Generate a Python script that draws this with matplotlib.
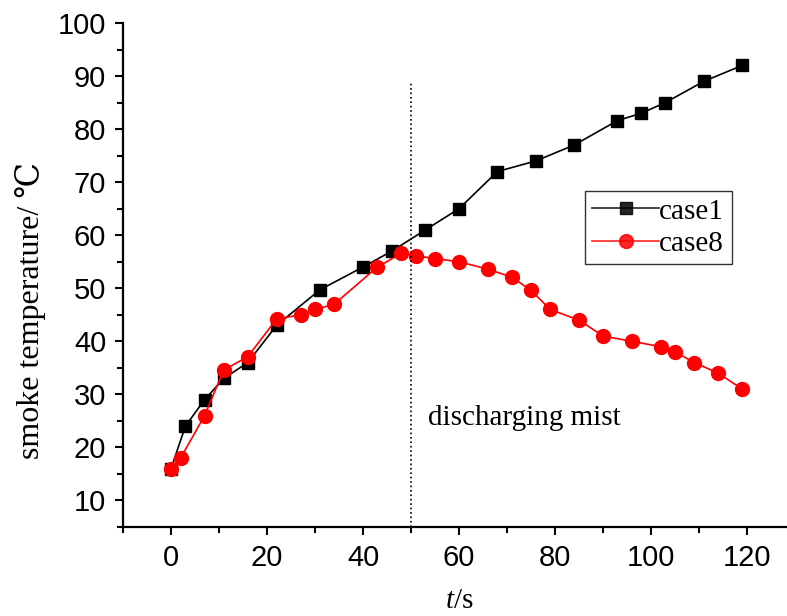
import numpy as np
import matplotlib.pyplot as plt
from matplotlib.ticker import MultipleLocator

plt.rcParams['mathtext.fontset'] = 'custom'
plt.rcParams['mathtext.it'] = 'Liberation Serif:italic'
plt.rcParams['mathtext.rm'] = 'Liberation Serif'

# data
t1 = np.array([0, 3, 7, 11, 16, 22, 31, 40, 46, 53, 60, 68, 76, 84, 93, 98, 103, 111, 119])
case1 = np.array([16, 24, 29, 33, 36, 43, 49.7, 54, 57, 61, 65, 72, 74, 77, 81.6, 83, 85, 89, 92])

t8 = np.array([0, 2, 7, 11, 16, 22, 27, 30, 34, 43, 48, 51, 55, 60, 66, 71, 75, 79, 85,
               90, 96, 102, 105, 109, 114, 119])
case8 = np.array([16, 18, 26, 34.6, 37.1, 44.2, 45, 46, 47, 54, 56.6, 56.1, 55.6, 55, 53.6,
                  52.1, 49.6, 46, 44, 41, 40, 39, 38, 36, 34, 31])

mist_t = 50
mist_top = 89

fig = plt.figure(figsize=(7.87, 6.16), dpi=100)
ax = fig.add_axes([123 / 787, 89 / 616, 672 / 787, 504 / 616])

ax.plot(t1, case1, '-s', color='black', lw=1.2, ms=8, label='case1')
ax.plot(t8, case8, '-o', color='red', lw=1.2, ms=10, label='case8')
ax.plot([mist_t, mist_t], [5, mist_top], ':', color='black', lw=1.2)
ax.text(53.5, 25.5, 'discharging mist', fontsize=21, family='Liberation Serif', va='center')

ax.set_xlim(-10, 130)
ax.set_ylim(5, 100)
ax.xaxis.set_minor_locator(MultipleLocator(10))
ax.yaxis.set_minor_locator(MultipleLocator(5))
ax.set_xticks(np.arange(0, 121, 20))
ax.set_yticks(np.arange(10, 101, 10))

for s in ['top', 'right']:
    ax.spines[s].set_visible(False)
for s in ['left', 'bottom']:
    ax.spines[s].set_linewidth(1.6)

ax.tick_params(which='major', direction='out', length=6, width=1.5, labelsize=21, pad=6)
ax.tick_params(which='minor', direction='out', length=4, width=1.5)
for lab in ax.get_xticklabels() + ax.get_yticklabels():
    lab.set_family('Liberation Sans')

ax.set_xlabel('$\\mathit{t}$/s', fontsize=21, family='Liberation Serif', labelpad=12)
ax.set_ylabel('smoke temperature/ ℃', fontsize=23, family=['Liberation Serif', 'DejaVu Serif'])
ax.yaxis.set_label_coords(-0.115, 0.43)

leg = ax.legend(loc='upper left', bbox_to_anchor=(585 / 787, 1 - 191 / 616), bbox_transform=fig.transFigure,
                prop={'family': 'Liberation Serif', 'size': 21}, frameon=True, fancybox=False,
                handlelength=2.3, handletextpad=0.0, borderpad=0.25, labelspacing=0.2, borderaxespad=0)
leg.get_frame().set_edgecolor('black')
leg.get_frame().set_linewidth(1.0)
for h in leg.get_lines():
    h.set_alpha(0.85)

plt.savefig('out.png', dpi=100)
